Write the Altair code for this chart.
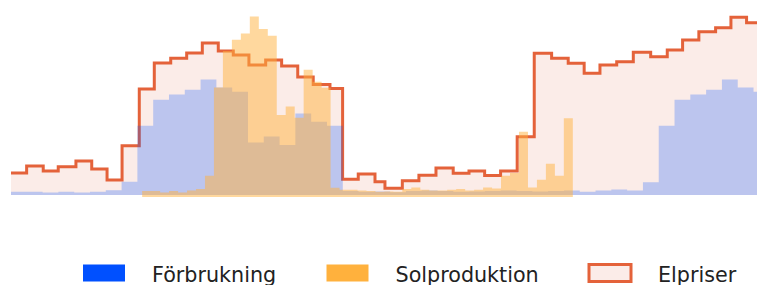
import altair as alt
import pandas as pd

series_names = ["Förbrukning", "Solproduktion", "Elpriser"]
series_colors = ["#0050FF", "#FFB13D", "#FBECE8"]

# Elpriser (öre/kWh): step start times in hours, and the price of each step
price_times = [0, 0.99, 2.04, 2.99, 4.11, 5.11, 6.08, 7.03, 8.12, 9.07, 10.11, 11.12,
               12.11, 13.12, 14.07, 15.06, 16.12, 17.13, 18.15, 19.13, 20.19, 20.99,
               21.98, 23.04, 23.67, 24.77, 25.82, 26.9, 27.99, 28.99, 29.98, 30.99,
               32.04, 33.12, 34.22, 35.27, 36.28, 37.28, 38.34, 39.39, 40.49, 41.54,
               42.51, 43.54, 44.6, 45.57, 46.56, 47.58, 49.0]
price_values = [22, 29, 24, 28.3, 34, 26, 15, 49.3, 106, 132, 136.7, 142,
                152, 144, 140, 130, 135, 129, 118, 110.5, 106.5, 15.7,
                21, 13.3, 6.7, 14.3, 19.7, 27, 21.7, 24, 19.5, 24,
                58.3, 141.7, 136.7, 131.7, 121.7, 130, 133.3, 142.7, 138.3, 145,
                155, 163.3, 167.3, 177.7, 172.3, 180]

# Förbrukning (kW), hourly, 48 hours
consumption = [0.08, 0.08, 0.06, 0.08, 0.06, 0.08, 0.12, 0.33, 1.73, 2.38, 2.51, 2.63,
               2.89, 2.69, 2.58, 1.31, 1.46, 1.25, 2.04, 1.83, 1.73, 0.10, 0.08, 0.09,
               0.07, 0.10, 0.11, 0.10, 0.08, 0.09, 0.10, 0.11, 0.10, 0.09, 0.10, 0.11,
               0.08, 0.11, 0.14, 0.11, 0.32, 1.73, 2.38, 2.51, 2.63, 2.89, 2.69, 2.58]

# Solproduktion (kW), 48 samples
solar = [0.15, 0.15, 0.11, 0.15, 0.11, 0.16, 0.20, 0.53, 2.74, 3.65, 3.93, 4.09,
         4.51, 4.20, 4.03, 2.05, 2.26, 1.98, 3.18, 2.88, 2.73, 0.23, 0.18, 0.18,
         0.16, 0.15, 0.13, 0.14, 0.13, 0.20, 0.24, 0.18, 0.16, 0.16, 0.18, 0.20,
         0.16, 0.18, 0.24, 0.21, 0.53, 0.60, 1.63, 0.24, 0.43, 0.83, 0.53, 1.97]

price_df = pd.DataFrame({"t": price_times, "v": price_values + [price_values[-1]],
                         "serie": "Elpriser"})
cons_df = pd.DataFrame({"h": list(range(len(consumption) + 1)),
                        "c": consumption + [consumption[-1]], "serie": "Förbrukning"})
sol_df = pd.DataFrame({"i": list(range(len(solar) + 1)),
                       "s": solar + [solar[-1]], "serie": "Solproduktion"})

legend = alt.Legend(
    orient="none", legendX=70.5, legendY=245, direction="horizontal", title=None,
    symbolType="M-1,-0.548L1,-0.548L1,0.262L-1,0.262Z", symbolSize=1764,
    symbolStrokeWidth=3,
    symbolStrokeColor={"expr": "datum.value === 'Elpriser' ? '#E4623A' : 'transparent'"},
    symbolOpacity=1,
    labelFont="DejaVu Sans", labelFontSize=20.7, labelColor="#222222",
    labelOffset=25.5, columnPadding=43.5, padding=0,
)
color = alt.Color("serie:N", scale=alt.Scale(domain=series_names, range=series_colors),
                  legend=legend)

hour_domain = [0, 47.22]
px = alt.X("t:Q", scale=alt.Scale(domain=hour_domain), axis=None)
py = alt.Y("v:Q", scale=alt.Scale(domain=[0, 187]), axis=None)

price_area = alt.Chart(price_df).mark_area(interpolate="step-after", clip=True).encode(
    x=px, y=py, color=color)
price_line = alt.Chart(price_df).mark_line(
    interpolate="step-after", clip=True, color="#E4623A", strokeWidth=3).encode(x=px, y=py)

cons = alt.Chart(cons_df).mark_area(interpolate="step-after", clip=True, opacity=0.25).encode(
    x=alt.X("h:Q", scale=alt.Scale(domain=hour_domain), axis=None),
    y=alt.Y("c:Q", scale=alt.Scale(domain=[0, 4.675]), axis=None),
    color=color)

sol = alt.Chart(sol_df).mark_area(interpolate="step-after", opacity=0.5).encode(
    x=alt.X("i:Q", scale=alt.Scale(domain=[-14.62, 68.53]), axis=None),
    y=alt.Y("s:Q", scale=alt.Scale(domain=[0.05, 4.725]), axis=None),
    y2=alt.datum(0),
    color=color)

chart = alt.layer(price_area, price_line, cons, sol).resolve_scale(
    x="independent", y="independent", color="shared"
).properties(
    width=746, height=187,
    padding={"left": 3, "top": 0, "right": 0, "bottom": 0},
    background="white",
).configure_view(stroke=None)

chart.save("out.html", embed_options={"renderer": "svg", "actions": False})
